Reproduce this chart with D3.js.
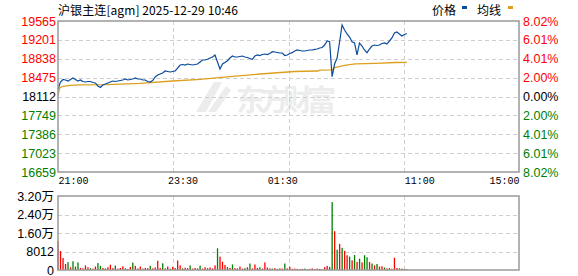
<!DOCTYPE html>
<html>
<head>
<meta charset="utf-8">
<script src="https://cdn.jsdelivr.net/npm/d3@7"></script>
<style>
  body { margin: 0; background: #fff; }
  svg { display: block; }
</style>
</head>
<body>
<div id="chart"></div>
<script>
// title / reference values
var title = "沪银主连[agm] 2025-12-29 10:46";
var preClose = 18112;

// price axis ticks (left) and percent labels (right)
var priceTicks = [19565, 19201, 18838, 18475, 18112, 17749, 17386, 17023, 16659];
var pctLabels = ["8.02%", "6.01%", "4.01%", "2.00%", "0.00%", "2.00%", "4.01%", "6.01%", "8.02%"];

// time axis: trading minutes since 21:00
var totalMinutes = 555;
var timeLabels = ["21:00", "23:30", "01:30", "11:00", "15:00"];
var timeLabelMinutes = [0, 150, 270, 435, 555];

// price, sampled every 3 trading minutes
var stepMinutes = 3;
var prices = [
  18256, 18391, 18439, 18430, 18410, 18439, 18468, 18439, 18410, 18430,
  18401, 18391, 18401, 18401, 18381, 18372, 18314, 18285, 18333, 18353,
  18372, 18391, 18410, 18401, 18410, 18420, 18430, 18449, 18430, 18439,
  18449, 18468, 18449, 18449, 18430, 18430, 18401, 18391, 18420, 18487,
  18526, 18545, 18564, 18603, 18593, 18584, 18593, 18603, 18660, 18718,
  18728, 18718, 18737, 18728, 18718, 18728, 18737, 18776, 18814, 18814,
  18828, 18853, 18872, 18911, 18776, 18641, 18737, 18766, 18801, 18853,
  18891, 18872, 18872, 18882, 18891, 18872, 18862, 18843, 18828, 18891,
  18911, 18901, 18920, 18930, 18920, 18940, 18974, 18968, 18959, 18949,
  18949, 18901, 18911, 18940, 18955, 18988, 19007, 18997, 18988, 18988,
  18997, 19007, 19007, 19020, 19026, 19045, 19055, 19103, 19180, 19167,
  18493, 18737, 18853, 19161, 19488, 19392, 19315, 19257, 19167, 19142,
  18911, 19142, 19084, 19007, 18955, 19026, 19084, 19103, 19094, 19103,
  19132, 19142, 19122, 19180, 19238, 19334, 19353, 19315, 19276, 19305,
  19324
];

// average price line
var avgMinutes = [0, 2, 5, 14, 26, 59, 99, 138, 171, 207, 243, 285, 313, 315, 330, 333, 345, 358, 382, 406, 420];
var avgPrices = [18141, 18276, 18304, 18328, 18334, 18339, 18366, 18410, 18443, 18493, 18545, 18593, 18603, 18618, 18626, 18670, 18709, 18738, 18751, 18766, 18770];

// volume, same 3 minute steps; 1 = up (red), 0 = down (green)
var volumes = [
  12500, 8200, 5200, 2600, 3400, 1200, 3800, 1500, 3300, 900,
  700, 2000, 1200, 800, 600, 1500, 3000, 1800, 900, 700,
  1200, 2300, 800, 1900, 600, 900, 1600, 700, 500, 1300,
  3200, 1800, 700, 1500, 600, 900, 800, 1800, 700, 1100,
  4000, 900, 2900, 700, 1500, 600, 1300, 800, 4100, 2000,
  700, 1000, 800, 2000, 600, 900, 700, 1900, 600, 1200,
  800, 1100, 700, 2000, 9400, 5800, 3600, 2200, 1300, 900,
  2400, 800, 700, 1500, 600, 800, 1200, 2800, 700, 2400,
  900, 1200, 600, 3300, 1100, 700, 600, 800, 500, 700,
  600, 2800, 700, 1400, 500, 600, 500, 400, 500, 600,
  400, 500, 700, 400, 600, 500, 400, 1200, 1800, 1300,
  29400, 16800, 8800, 11300, 9600, 8300, 6400, 5800, 4200, 6500,
  3500, 4900, 3300, 6400, 5500, 3500, 2800, 2000, 2600, 1500,
  1600, 1100, 700, 800, 500, 5300, 900, 700, 600, 500,
  400
];
var volumeUp = [
  1,1,1,1,0,1,0,0,0,1, 1,1,1,0,1,1,0,0,1,0,
  1,1,1,0,1,1,1,0,1,1, 0,1,1,1,0,1,1,0,1,1,
  1,1,0,1,1,0,1,1,1,1, 0,1,1,0,1,1,0,0,1,1,
  1,1,1,1,0,1,1,1,0,1, 0,1,1,1,1,0,1,0,1,1,
  1,0,1,1,1,1,0,1,1,1, 1,0,1,1,1,1,1,1,1,0,
  1,1,1,1,1,1,0,1,1,0, 0,1,0,1,0,1,1,0,1,0,
  1,0,1,0,0,1,0,1,0,1, 1,0,1,1,0,1,1,0,1,0,
  1
];
var volTicks = [0, 8012, 16024, 24036, 32048];
var volLabels = ["0", "8012", "1.60万", "2.40万", "3.20万"];

var W = 578, H = 276;
var left = 58, right = 519;
var pTop = 21, pBottom = 172;
var vTop = 196, vBottom = 270;

var red = "#ff0000", green = "#008000";
var lineBlue = "#0a4c9c", avgOrange = "#dca01e";
var labelFont = "'Liberation Sans', Arial, sans-serif";
var cjkFont = "'Noto Sans CJK SC', sans-serif";
var monoFont = "'Liberation Mono', 'DejaVu Sans Mono', monospace";

var svg = d3.select("#chart").append("svg")
  .attr("width", W).attr("height", H);

var x = d3.scaleLinear().domain([0, totalMinutes]).range([left, right]);
var y = d3.scaleLinear().domain([priceTicks[priceTicks.length - 1], priceTicks[0]]).range([pBottom, pTop]);
var vy = d3.scaleLinear().domain([0, volTicks[volTicks.length - 1]]).range([vBottom, vTop]);

// watermark
var wm = svg.append("g").attr("fill", "#ececec");
wm.append("path").attr("d", "M196,112 L214,82 L222,82 L206,112Z M208,112 L226,86 L231,90 L216,112Z");
wm.append("text")
  .attr("x", 236).attr("y", 111)
  .attr("font-family", cjkFont).attr("font-size", 29).attr("font-weight", "bold")
  .attr("textLength", 100).attr("lengthAdjust", "spacing")
  .text("东方财富");

// grids
var quarters = d3.range(1, 4).map(function(k) { return k * totalMinutes / 4; });

function grid(g, yScale, yVals, y0, y1) {
  g.selectAll("line.h").data(yVals).enter().append("line")
    .attr("x1", left).attr("x2", right)
    .attr("y1", function(d) { return Math.round(yScale(d)) + 0.5; })
    .attr("y2", function(d) { return Math.round(yScale(d)) + 0.5; });
  g.selectAll("line.v").data(quarters).enter().append("line")
    .attr("x1", function(d) { return Math.round(x(d)) + 0.5; })
    .attr("x2", function(d) { return Math.round(x(d)) + 0.5; })
    .attr("y1", y0).attr("y2", y1);
}

var pg = svg.append("g").attr("stroke", "#cfcfcf").attr("stroke-dasharray", "4,3");
grid(pg, y, priceTicks.slice(1, -1), pTop, pBottom);
var vg = svg.append("g").attr("stroke", "#cfcfcf").attr("stroke-dasharray", "4,3");
grid(vg, vy, volTicks.slice(1, -1), vTop, vBottom);

// volume bars
svg.append("g").selectAll("rect").data(volumes).enter().append("rect")
  .attr("x", function(d, i) { return x(i * stepMinutes) - 0.6; })
  .attr("width", 1.3)
  .attr("y", function(d) { return vy(d); })
  .attr("height", function(d) { return vBottom - vy(d); })
  .attr("fill", function(d, i) { return volumeUp[i] ? red : green; });

// average line
var avgLine = d3.line()
  .x(function(d, i) { return x(avgMinutes[i]); })
  .y(function(d) { return y(d); });
svg.append("path").datum(avgPrices)
  .attr("d", avgLine)
  .attr("fill", "none").attr("stroke", avgOrange).attr("stroke-width", 1.3);

// price line
var priceLine = d3.line()
  .x(function(d, i) { return x(i * stepMinutes); })
  .y(function(d) { return y(d); });
svg.append("path").datum(prices)
  .attr("d", priceLine)
  .attr("fill", "none").attr("stroke", lineBlue).attr("stroke-width", 1.2);

// frames
svg.append("rect").attr("x", left).attr("y", pTop).attr("width", right - left).attr("height", pBottom - pTop)
  .attr("fill", "none").attr("stroke", "#999").attr("stroke-width", 1.5);
svg.append("rect").attr("x", left).attr("y", vTop).attr("width", right - left).attr("height", vBottom - vTop)
  .attr("fill", "none").attr("stroke", "#999").attr("stroke-width", 1.5);

function priceColor(d) {
  return d > preClose ? red : (d < preClose ? green : "#000");
}

// left price axis
var leftAxis = svg.append("g").attr("transform", "translate(" + (left - 2) + ",0)")
  .call(d3.axisLeft(y).tickValues(priceTicks).tickSize(0).tickPadding(0).tickFormat(d3.format("d")));
leftAxis.select(".domain").remove();
leftAxis.selectAll("text")
  .attr("font-family", labelFont).attr("font-size", 12.5)
  .attr("fill", priceColor);

// right percent axis
var rightAxis = svg.append("g").attr("transform", "translate(" + (right + 4) + ",0)")
  .call(d3.axisRight(y).tickValues(priceTicks).tickSize(0).tickPadding(0)
    .tickFormat(function(d, i) { return pctLabels[i]; }));
rightAxis.select(".domain").remove();
rightAxis.selectAll("text")
  .attr("font-family", labelFont).attr("font-size", 12.5)
  .attr("fill", priceColor);

// time axis
var timeAxis = svg.append("g").attr("transform", "translate(0," + pBottom + ")")
  .call(d3.axisBottom(x).tickValues(timeLabelMinutes).tickSize(0).tickPadding(5)
    .tickFormat(function(d, i) { return timeLabels[i]; }));
timeAxis.select(".domain").remove();
timeAxis.selectAll("text")
  .attr("font-family", monoFont).attr("font-size", 10).attr("fill", "#000")
  .attr("text-anchor", function(d, i) { return i === 0 ? "start" : (i === timeLabels.length - 1 ? "end" : "middle"); });

// volume axis
var volAxis = svg.append("g").attr("transform", "translate(" + (left - 4) + ",0)")
  .call(d3.axisLeft(vy).tickValues(volTicks).tickSize(0).tickPadding(0)
    .tickFormat(function(d, i) { return volLabels[i]; }));
volAxis.select(".domain").remove();
volAxis.selectAll("text")
  .attr("font-family", labelFont + ", " + cjkFont).attr("font-size", 12.5).attr("fill", "#000");

// title
svg.append("text")
  .attr("x", left).attr("y", 15)
  .attr("font-family", cjkFont).attr("font-size", 12)
  .attr("textLength", 180).attr("lengthAdjust", "spacing")
  .text(title);

// legend
var legend = svg.append("g").attr("font-family", cjkFont).attr("font-size", 12).attr("fill", "#000");
legend.append("text").attr("x", 432).attr("y", 15).text("价格");
legend.append("rect").attr("x", 462).attr("y", 6).attr("width", 5).attr("height", 3).attr("fill", lineBlue);
legend.append("text").attr("x", 477).attr("y", 15).text("均线");
legend.append("rect").attr("x", 508).attr("y", 6).attr("width", 5).attr("height", 3).attr("fill", avgOrange);
</script>
</body>
</html>
